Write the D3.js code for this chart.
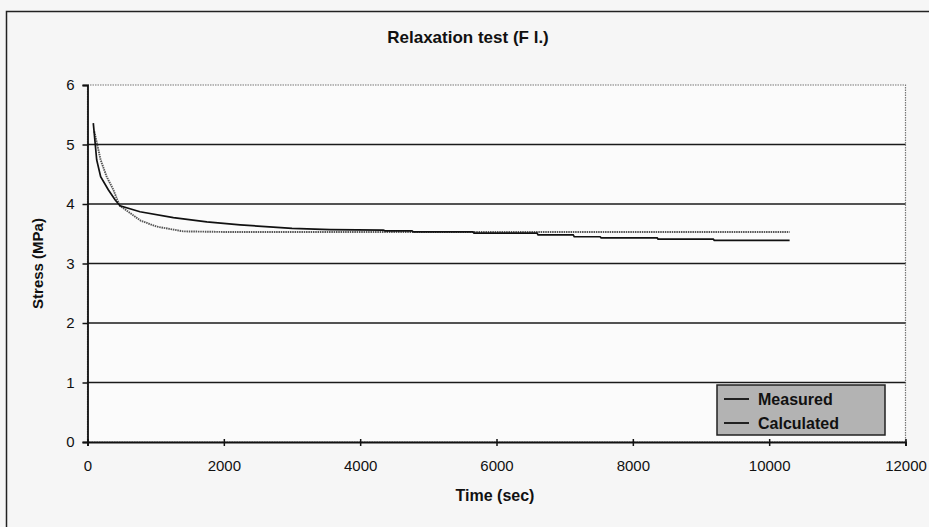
<!DOCTYPE html>
<html>
<head>
<meta charset="utf-8">
<script src="https://cdn.jsdelivr.net/npm/d3@7"></script>
<style>
  html, body { margin: 0; padding: 0; background: #f6f6f6; }
  svg { display: block; font-family: "Liberation Sans", Arial, sans-serif; }
</style>
</head>
<body>
<svg id="chart" width="929" height="527"></svg>
<script>
// ---- data ----
const xTicks = [0, 2000, 4000, 6000, 8000, 10000, 12000];
const yTicks = [0, 1, 2, 3, 4, 5, 6];

const measuredTime   = [85, 135, 193, 305, 404, 477, 770, 1260, 1750, 2240, 2725, 3000, 3560, 4340, 4365, 4760, 4780, 5655, 5670, 6595, 6610, 7125, 7140, 7520, 7535, 8357, 8370, 9180, 9195, 10300];
const measuredStress = [5.36, 4.74, 4.46, 4.24, 4.07, 3.97, 3.87, 3.77, 3.70, 3.65, 3.61, 3.59, 3.57, 3.56, 3.55, 3.55, 3.53, 3.53, 3.51, 3.51, 3.48, 3.48, 3.45, 3.45, 3.43, 3.43, 3.41, 3.41, 3.39, 3.39];

const calcTime   = [100, 193, 281, 379, 437, 477, 780, 1015, 1260, 1405, 2000, 4000, 6000, 8000, 10300];
const calcStress = [5.22, 4.74, 4.46, 4.24, 4.07, 3.97, 3.72, 3.62, 3.57, 3.54, 3.53, 3.53, 3.53, 3.53, 3.53];

const seriesNames = ['Measured', 'Calculated'];

const svg = d3.select('#chart');
const plot = { left: 87.5, right: 905.5, top: 85, bottom: 442 };

const x = d3.scaleLinear().domain([0, 12000]).range([plot.left, plot.right]);
const y = d3.scaleLinear().domain([0, 6]).range([plot.bottom, plot.top]);

// chart border
svg.append('rect')
  .attr('x', 6.5).attr('y', 11.5).attr('width', 940).attr('height', 530)
  .attr('fill', 'none').attr('stroke', '#222').attr('stroke-width', 1.5);

// plot area
svg.append('rect')
  .attr('x', plot.left).attr('y', plot.top)
  .attr('width', plot.right - plot.left).attr('height', plot.bottom - plot.top)
  .attr('fill', '#fbfbfb')
  .attr('stroke', '#777').attr('stroke-width', 1.2).attr('stroke-dasharray', '1.5,1');

// gridlines
svg.append('g')
  .selectAll('line')
  .data(yTicks.filter(v => v > 0 && v < 6))
  .join('line')
  .attr('x1', plot.left).attr('x2', plot.right)
  .attr('y1', d => y(d)).attr('y2', d => y(d))
  .attr('stroke', '#1a1a1a').attr('stroke-width', 1.7);

// axes
const axisY = svg.append('g')
  .attr('transform', `translate(${plot.left},0)`)
  .call(d3.axisLeft(y).tickValues(yTicks).tickSize(5).tickPadding(8).tickFormat(d3.format('d')));
const axisX = svg.append('g')
  .attr('transform', `translate(0,${plot.bottom})`)
  .call(d3.axisBottom(x).tickValues(xTicks).tickSize(4).tickPadding(14).tickFormat(d3.format('d')));

[axisX, axisY].forEach(g => {
  g.attr('font-size', 15).attr('font-family', null);
  g.select('.domain').attr('stroke', '#111').attr('stroke-width', 1.8);
  g.selectAll('line').attr('stroke', '#111').attr('stroke-width', 1.5);
  g.selectAll('text').attr('fill', '#111');
});
// x ticks cross the axis slightly
axisX.selectAll('.tick line').attr('y1', -3);

// series
const line = d3.line().x(d => x(d[0])).y(d => y(d[1]));

const measured = measuredTime.map((t, i) => [t, measuredStress[i]]);
const calc = calcTime.map((t, i) => [t, calcStress[i]]);

svg.append('path')
  .datum(calc)
  .attr('d', line)
  .attr('fill', 'none').attr('stroke', '#555').attr('stroke-width', 1.9)
  .attr('stroke-dasharray', '1.5,0.8');

svg.append('path')
  .datum(measured)
  .attr('d', line)
  .attr('fill', 'none').attr('stroke', '#111').attr('stroke-width', 1.7);

// titles
svg.append('text')
  .attr('x', 468).attr('y', 43)
  .attr('text-anchor', 'middle').attr('font-size', 17).attr('font-weight', 'bold').attr('fill', '#111')
  .text('Relaxation test (F l.)');

svg.append('text')
  .attr('x', 495).attr('y', 501)
  .attr('text-anchor', 'middle').attr('font-size', 16).attr('font-weight', 'bold').attr('fill', '#111')
  .text('Time (sec)');

svg.append('text')
  .attr('transform', 'rotate(-90)')
  .attr('x', -(plot.top + plot.bottom) / 2).attr('y', 43)
  .attr('text-anchor', 'middle').attr('font-size', 15).attr('font-weight', 'bold').attr('fill', '#111')
  .text('Stress (MPa)');

// legend
const legend = svg.append('g').attr('transform', 'translate(717,385)');
legend.append('rect')
  .attr('width', 168).attr('height', 50)
  .attr('fill', '#b3b3b3').attr('stroke', '#222').attr('stroke-width', 1.5);
seriesNames.forEach((name, i) => {
  const ly = 14 + i * 24;
  legend.append('line')
    .attr('x1', 7).attr('x2', 32).attr('y1', ly).attr('y2', ly)
    .attr('stroke', '#111').attr('stroke-width', 1.8);
  legend.append('text')
    .attr('x', 41).attr('y', ly + 5.5)
    .attr('font-size', 16).attr('font-weight', 'bold').attr('fill', '#111')
    .text(name);
});
</script>
</body>
</html>
